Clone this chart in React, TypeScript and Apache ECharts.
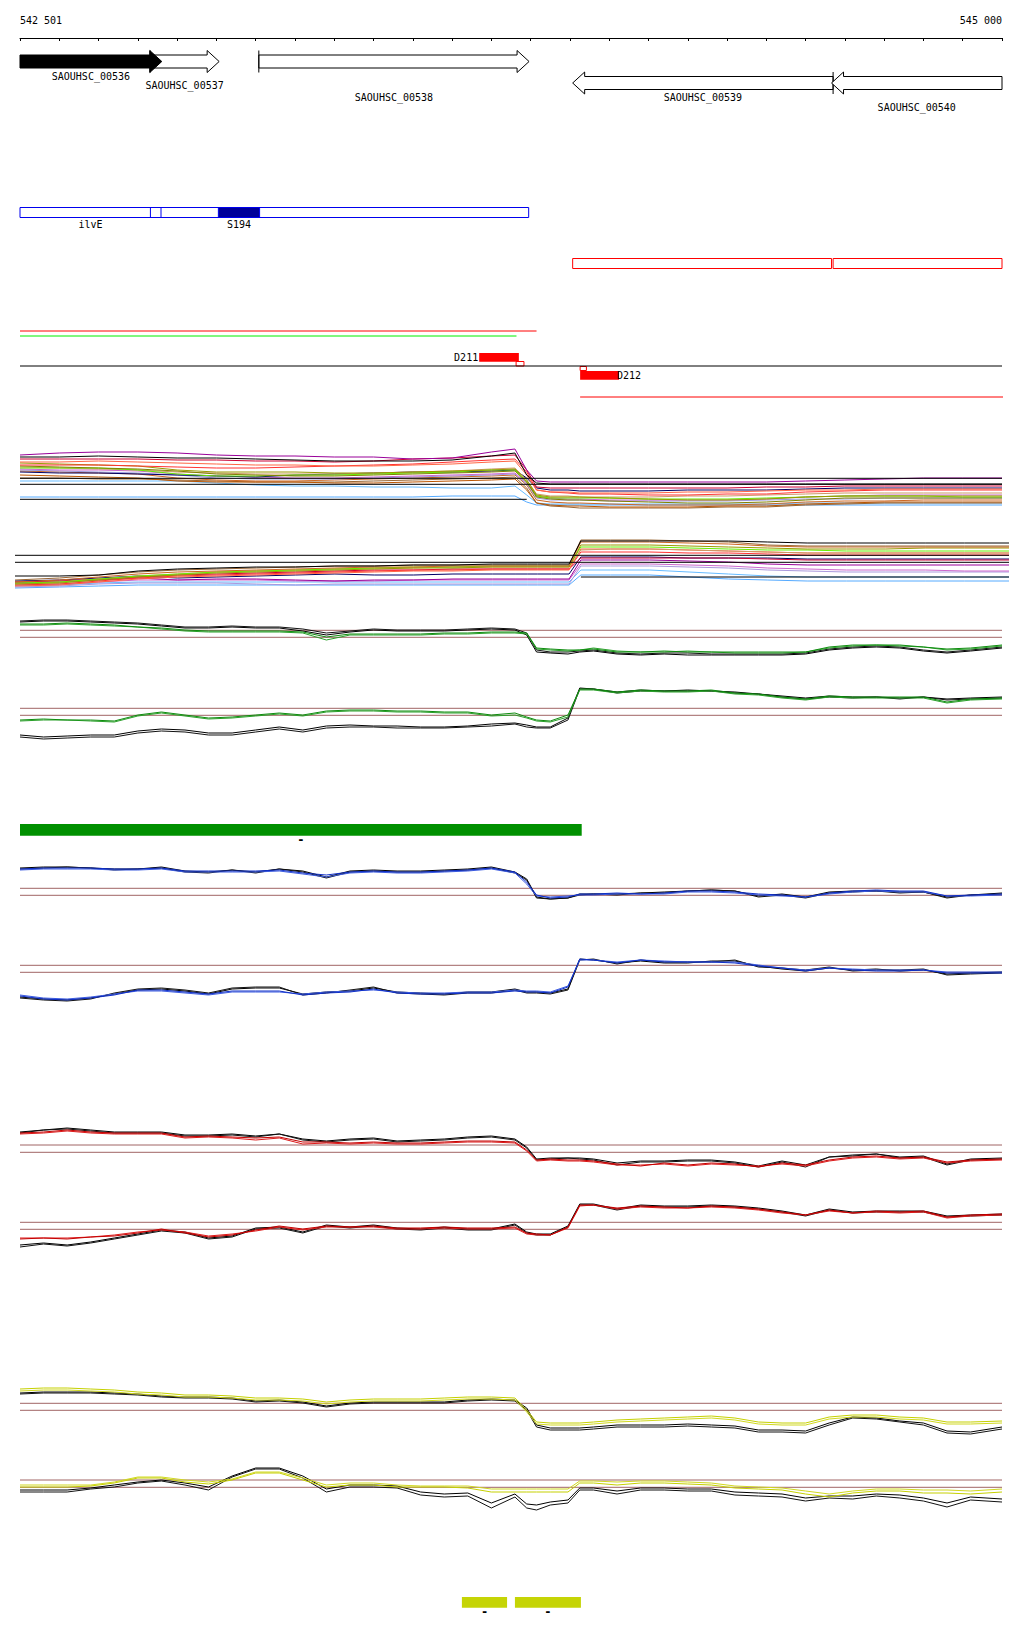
import React, { useEffect, useRef } from 'react';
import * as echarts from 'echarts';

// ---------------- data ----------------
const VIEW_START = 542500;
const VIEW_END = 545000;
const TICK_STEP = 100;
const RULER_LABELS = ['542 501', '545 000'];

const GENE_NAMES = ['SAOUHSC_00536', 'SAOUHSC_00537', 'SAOUHSC_00538', 'SAOUHSC_00539', 'SAOUHSC_00540'];
const GENE_START = [542400, 542831, 543108, 543907, 544566];
const GENE_END = [542861, 543007, 543796, 544570, 545200];
const GENE_STRAND = [1, 1, 1, -1, -1];
const GENE_SELECTED = ['SAOUHSC_00536'];

const FEAT_LABELS = ['ilvE', '', 'S194', '', ''];
const FEAT_START = [542420, 542832, 543005, 543907, 544570];
const FEAT_END = [542859, 543795, 543110, 544566, 545000];
const FEAT_STRAND = ['+', '+', '+', '-', '-'];
const FEAT_TYPE = ['CDS', 'UTR', 'sRNA', 'antisense', 'antisense'];

const TX_START = [542500, 542500, 543926];
const TX_END = [543815, 543764, 545056];
const TX_LEVEL = [3.5, 3.0, -3.1];

const SITE_NAMES = ['D211', 'D212'];
const SITE_START = [543669, 543926];
const SITE_END = [543770, 544025];
const SITE_STRAND = [1, -1];
const SITE_BOX_START = [543763, 543926];
const SITE_BOX_END = [543783, 543942];

const GREEN_BAR_START = [542450];
const GREEN_BAR_END = [543930];
const YELLOW_BAR_START = [543625, 543760];
const YELLOW_BAR_END = [543740, 543928];
const BAR_STRAND_LABEL = '-';

// positions of the tiling probes (bp)
const POS = [542500, 542560, 542620, 542680, 542740, 542800, 542860, 542920, 542980, 543040, 543100, 543160, 543220, 543280, 543340, 543400, 543460, 543520, 543580, 543640, 543700, 543760, 543790, 543815, 543850, 543895, 543925, 543960, 544020, 544080, 544140, 544200, 544260, 544320, 544380, 544440, 544500, 544560, 544620, 544680, 544740, 544800, 544860, 544920, 545000];
const POS_M = [542500, 542600, 542700, 542800, 542900, 543000, 543100, 543200, 543300, 543400, 543500, 543600, 543700, 543760, 543790, 543815, 543850, 543895, 543925, 544000, 544100, 544200, 544300, 544400, 544500, 544600, 544700, 544800, 544900, 545000];
const POS_M2 = [542487, 542600, 542700, 542800, 542900, 543000, 543100, 543200, 543300, 543400, 543500, 543600, 543700, 543760, 543790, 543815, 543850, 543895, 543925, 544000, 544100, 544200, 544300, 544400, 544500, 544600, 544700, 544800, 544900, 545013];

// multi-condition track 1
const M1_PURPLE = [57, 59, 60, 60, 59, 57, 56, 56, 55, 55, 53, 54, 60, 63, 42, 31, 30, 30, 30, 30, 30, 30, 30, 30, 31, 32, 33, 34, 34, 34];
const M1_BLACK = [55, 55, 56, 55, 54, 54, 53, 52, 51, 51, 51, 52, 56, 59, 37, 29, 28, 28, 28, 28, 28, 28, 28, 28, 28, 28, 28, 28, 28, 28];
const M1_CRIMSON = [53, 53, 53, 53, 52, 52, 51, 51, 50, 51, 53, 54, 56, 57, 42, 25, 24, 24, 24, 24, 24, 24, 24, 25, 25, 26, 26, 26, 26, 26];
const M1_SALMON = [50, 50, 51, 50, 49, 48, 47, 47, 46, 46, 47, 48, 50, 51, 37, 22, 20, 20, 19, 19, 19, 20, 20, 21, 22, 22, 23, 23, 23, 23];
const M1_OLIVE = [49, 48, 47, 46, 42, 40, 40, 40, 39, 39, 40, 41, 42, 43, 32, 17, 15, 15, 15, 14, 13, 12, 12, 13, 15, 16, 16, 16, 16, 16];
const M1_OLIVE2 = [46, 45, 44, 43, 41, 38, 37, 36, 36, 37, 38, 39, 40, 41, 30, 15, 13, 12, 12, 11, 10, 9, 9, 10, 12, 14, 14, 14, 14, 14];
const M1_GREEN = [44, 44, 44, 42, 38, 36, 36, 37, 37, 38, 39, 40, 42, 42, 30, 16, 14, 14, 14, 14, 13, 13, 13, 14, 15, 16, 16, 16, 15, 15];
const M1_ORANGE = [41, 40, 39, 38, 34, 32, 31, 31, 32, 33, 34, 35, 36, 37, 27, 12, 10, 9, 9, 8, 7, 7, 7, 8, 10, 11, 11, 12, 12, 12];
const M1_ORANGE2 = [37, 36, 35, 34, 31, 30, 30, 30, 29, 29, 30, 31, 32, 33, 22, 9, 7, 6, 6, 5, 5, 5, 6, 6, 8, 9, 10, 10, 10, 10];
const M1_NAVY = [40, 39, 39, 38, 37, 36, 35, 37, 38, 39, 40, 40, 41, 42, 34, 24, 22, 22, 21, 21, 21, 22, 22, 22, 23, 24, 24, 24, 24, 24];
const M1_LAVENDER = [42, 41, 40, 39, 37, 34, 33, 33, 33, 34, 35, 36, 37, 38, 28, 14, 12, 12, 12, 11, 11, 11, 11, 12, 13, 13, 14, 14, 14, 14];
const M1_PINK = [43, 42, 42, 41, 38, 36, 35, 34, 34, 35, 36, 37, 38, 39, 29, 16, 14, 13, 13, 12, 12, 12, 12, 13, 15, 16, 17, 17, 17, 17];
const M1_LIGHTBLUE = [31, 31, 31, 31, 31, 29, 27, 26, 26, 25, 25, 24, 24, 26, 17, 9, 8, 8, 8, 8, 8, 8, 8, 8, 9, 9, 9, 9, 9, 9];
const M1_LIGHTBLUE2 = [15, 15, 15, 15, 15, 15, 15, 15, 15, 15, 15, 16, 16, 16, 10, 7, 7, 7, 7, 7, 7, 7, 7, 7, 7, 7, 7, 7, 7, 7];
const M1_RED = [47, 47, 47, 46, 45, 44, 44, 45, 46, 47, 48, 50, 52, 53, 40, 22, 20, 19, 18, 18, 17, 17, 18, 18, 20, 21, 22, 22, 22, 22];
const M1_TAN = [45, 44, 43, 42, 40, 39, 38, 38, 38, 39, 40, 41, 43, 44, 32, 18, 16, 16, 15, 15, 15, 16, 16, 17, 18, 19, 19, 19, 19, 19];
const M1_BROWN = [34, 34, 33, 33, 32, 31, 30, 30, 30, 31, 32, 33, 34, 35, 24, 9, 6, 5, 4, 4, 4, 4, 5, 5, 7, 8, 9, 9, 9, 9];
const M1_REF = [33.7, 27.7];
const M1_REF_LEFT = 12.7;

// multi-condition track 2
const M2_BROWN = [15, 17, 20, 23, 25, 26, 27, 28, 29, 29, 30, 30, 30, 30, 30, 30, 30, 30, 55, 55, 55, 54, 53, 50, 49, 49, 49, 49, 49, 49];
const M2_ORANGE = [13, 15, 18, 21, 23, 24, 25, 26, 27, 28, 28, 29, 29, 29, 29, 29, 29, 29, 53, 53, 53, 52, 51, 49, 48, 48, 48, 48, 48, 48];
const M2_OLIVE = [11, 12, 15, 18, 20, 22, 23, 24, 25, 26, 27, 27, 28, 28, 28, 28, 28, 28, 50, 50, 50, 49, 48, 47, 46, 46, 46, 47, 47, 47];
const M2_GREEN = [12, 13, 16, 19, 21, 23, 24, 25, 26, 27, 28, 28, 29, 29, 29, 29, 29, 29, 48, 48, 48, 47, 46, 45, 45, 44, 44, 44, 44, 44];
const M2_RED = [10, 11, 14, 17, 19, 20, 21, 22, 23, 24, 25, 25, 26, 26, 26, 26, 26, 26, 43, 43, 43, 42, 42, 41, 40, 40, 40, 40, 40, 40];
const M2_SALMON = [9, 10, 13, 16, 18, 19, 20, 21, 22, 23, 24, 24, 25, 25, 25, 25, 25, 25, 46, 46, 46, 45, 44, 43, 42, 42, 42, 42, 42, 42];
const M2_NAVY = [14, 15, 17, 19, 17, 18, 19, 20, 21, 20, 20, 21, 21, 21, 21, 21, 21, 21, 38, 38, 38, 37, 37, 37, 36, 36, 36, 36, 36, 36];
const M2_PURPLE = [12, 13, 15, 17, 15, 16, 16, 15, 14, 15, 15, 16, 16, 16, 16, 16, 16, 16, 35, 35, 35, 34, 33, 31, 30, 30, 30, 30, 30, 30];
const M2_PINK = [10, 11, 13, 15, 15, 15, 15, 14, 14, 14, 15, 15, 15, 15, 15, 15, 15, 15, 31, 31, 31, 30, 29, 27, 26, 25, 25, 25, 24, 24];
const M2_LAVENDER = [8, 9, 11, 12, 12, 12, 11, 10, 11, 11, 11, 11, 11, 11, 11, 11, 11, 11, 29, 29, 29, 28, 27, 25, 24, 23, 23, 23, 23, 23];
const M2_LIGHTBLUE = [9, 10, 12, 13, 13, 13, 13, 13, 13, 13, 13, 13, 13, 13, 13, 13, 13, 13, 25, 25, 25, 23, 21, 19, 18, 18, 18, 18, 18, 18];
const M2_LIGHTBLUE2 = [7, 8, 9, 10, 10, 10, 10, 10, 10, 10, 10, 10, 10, 10, 10, 10, 10, 10, 20, 20, 20, 18, 16, 15, 14, 14, 14, 14, 14, 14];
const M2_TAN = [11, 13, 16, 19, 21, 23, 24, 25, 26, 27, 27, 28, 28, 28, 28, 28, 28, 28, 45, 46, 46, 45, 44, 43, 42, 42, 42, 42, 42, 42];
const M2_CRIMSON = [13, 14, 16, 18, 20, 21, 22, 23, 24, 25, 25, 26, 26, 26, 26, 26, 26, 26, 37, 37, 37, 37, 37, 36, 35, 35, 35, 35, 35, 35];
const M2_BLACK = [19, 19, 20, 24, 26, 27, 28, 28, 29, 29, 30, 30, 31, 31, 31, 31, 31, 31, 54, 54, 54, 54, 54, 53, 52, 52, 52, 52, 52, 52];
const M2_REF = [39.7, 32.7];
const M2_REF_RIGHT = 18;

// green tracks
const G1_BLACK_A = [41, 42, 42, 41, 40, 39, 37, 35, 35, 36, 35, 35, 33, 29, 31, 33, 32, 32, 32, 33, 34, 33, 29, 12, 10, 10, 11, 12, 9, 8, 9, 9, 8, 8, 8, 8, 9, 13, 15, 16, 15, 12, 10, 12, 15];
const G1_BLACK_B = [40, 41, 41, 40, 39, 38, 36, 34, 34, 35, 34, 34, 31, 27, 30, 32, 31, 31, 31, 32, 33, 32, 27, 10, 9, 8, 10, 11, 8, 7, 8, 7, 7, 7, 7, 7, 8, 12, 14, 15, 14, 11, 9, 11, 14];
const G1_GREEN_A = [38, 38, 39, 38, 37, 35, 34, 32, 31, 31, 31, 31, 30, 25, 28, 28, 28, 28, 29, 29, 30, 30, 29, 14, 13, 12, 12, 13, 10, 10, 11, 10, 10, 10, 10, 10, 10, 15, 17, 17, 17, 15, 13, 14, 17];
const G1_GREEN_B = [37, 37, 38, 37, 36, 35, 33, 31, 30, 30, 30, 30, 29, 22, 27, 27, 27, 27, 28, 28, 29, 29, 28, 13, 12, 11, 12, 14, 11, 10, 10, 11, 10, 9, 9, 9, 10, 14, 16, 17, 16, 15, 12, 13, 16];
const G1_THRESH = [31.7, 24.7];

const G2_GREEN_A = [25, 26, 25, 25, 24, 30, 33, 30, 27, 28, 30, 32, 30, 34, 35, 35, 34, 34, 33, 33, 30, 32, 28, 25, 24, 30, 56, 56, 53, 55, 54, 54, 55, 52, 51, 48, 46, 49, 48, 48, 48, 48, 43, 46, 47];
const G2_GREEN_B = [24, 25, 25, 24, 23, 29, 32, 29, 26, 27, 29, 31, 29, 33, 34, 34, 33, 33, 32, 32, 29, 30, 27, 24, 23, 28, 55, 55, 52, 54, 53, 53, 54, 51, 50, 47, 45, 48, 47, 47, 47, 47, 42, 45, 46];
const G2_BLACK_A = [8, 6, 7, 8, 8, 12, 14, 13, 10, 10, 13, 16, 13, 17, 18, 18, 17, 17, 17, 18, 19, 21, 18, 17, 17, 25, 56, 56, 52, 54, 54, 54, 54, 52, 51, 48, 46, 48, 47, 48, 46, 48, 45, 46, 47];
const G2_BLACK_B = [10, 8, 9, 10, 10, 14, 16, 15, 12, 12, 15, 18, 15, 19, 20, 19, 19, 18, 18, 19, 21, 22, 20, 18, 18, 27, 57, 56, 53, 55, 54, 55, 54, 53, 51, 49, 47, 49, 48, 48, 47, 48, 46, 47, 48];
const G2_THRESH = [36.7, 29.7];

// blue tracks
const B1_BLUE_A = [41, 42, 42, 42, 41, 41, 42, 39, 39, 39, 39, 40, 37, 35, 38, 39, 38, 38, 39, 40, 42, 38, 28, 15, 12, 13, 16, 16, 17, 16, 17, 19, 19, 18, 16, 15, 13, 17, 19, 20, 19, 19, 14, 15, 16];
const B1_BLUE_B = [40, 41, 41, 41, 40, 40, 41, 38, 38, 38, 38, 39, 36, 33, 37, 38, 37, 37, 38, 39, 41, 37, 26, 14, 13, 14, 15, 15, 16, 16, 16, 18, 18, 17, 15, 14, 13, 16, 18, 19, 18, 18, 14, 14, 15];
const B1_BLACK_A = [41, 42, 43, 42, 40, 41, 42, 38, 37, 40, 37, 41, 38, 32, 38, 39, 38, 38, 39, 40, 42, 37, 30, 12, 11, 12, 15, 16, 15, 17, 17, 19, 20, 19, 13, 15, 12, 17, 18, 19, 17, 18, 12, 15, 16];
const B1_BLACK_B = [42, 43, 43, 42, 41, 41, 43, 39, 38, 40, 38, 41, 39, 33, 39, 40, 39, 39, 40, 41, 43, 38, 31, 13, 11, 12, 16, 16, 16, 17, 18, 19, 20, 19, 14, 16, 13, 18, 19, 19, 18, 18, 13, 15, 17];
const B1_THRESH = [21.7, 14.7];

const B2_BLUE_A = [14, 11, 10, 12, 15, 20, 20, 18, 16, 19, 19, 19, 15, 17, 18, 21, 17, 16, 16, 17, 17, 19, 18, 18, 17, 23, 51, 50, 47, 50, 48, 48, 48, 47, 44, 42, 39, 42, 40, 39, 39, 40, 37, 37, 37];
const B2_BLUE_B = [15, 12, 11, 13, 16, 19, 19, 17, 15, 18, 18, 18, 16, 18, 19, 20, 18, 17, 17, 18, 18, 20, 19, 19, 18, 24, 50, 50, 48, 50, 49, 48, 48, 48, 45, 42, 40, 42, 41, 40, 40, 40, 38, 38, 38];
const B2_BLACK_A = [12, 10, 9, 11, 17, 21, 22, 20, 17, 22, 23, 23, 15, 17, 20, 23, 17, 16, 15, 17, 17, 20, 17, 17, 16, 20, 50, 51, 46, 50, 48, 48, 48, 50, 43, 42, 40, 43, 39, 40, 40, 41, 35, 36, 37];
const B2_BLACK_B = [13, 11, 10, 12, 16, 20, 21, 19, 16, 21, 22, 22, 16, 18, 19, 22, 18, 17, 16, 18, 18, 21, 18, 18, 17, 21, 51, 50, 47, 49, 47, 47, 49, 49, 44, 41, 39, 42, 40, 41, 39, 40, 36, 37, 38];
const B2_THRESH = [44.7, 37.7];

// red tracks
const R1_RED_A = [47, 48, 50, 48, 47, 47, 47, 43, 44, 43, 42, 43, 38, 38, 37, 38, 37, 37, 38, 39, 39, 38, 30, 20, 21, 20, 20, 19, 16, 14, 17, 15, 17, 16, 13, 17, 15, 20, 23, 24, 22, 23, 18, 20, 21];
const R1_RED_B = [46, 47, 49, 47, 46, 46, 46, 42, 43, 42, 40, 42, 36, 37, 36, 37, 36, 36, 37, 38, 38, 37, 29, 19, 20, 19, 19, 18, 15, 15, 16, 14, 16, 15, 14, 16, 14, 19, 22, 23, 21, 22, 17, 19, 20];
const R1_BLACK_A = [47, 50, 51, 49, 47, 47, 47, 44, 44, 45, 43, 46, 40, 38, 40, 41, 38, 39, 40, 42, 43, 40, 32, 20, 21, 22, 21, 20, 15, 18, 18, 19, 19, 17, 13, 18, 13, 23, 24, 26, 22, 23, 15, 20, 21];
const R1_BLACK_B = [48, 50, 52, 50, 48, 48, 48, 45, 45, 46, 44, 46, 41, 39, 41, 42, 39, 40, 41, 43, 44, 41, 33, 21, 22, 22, 22, 21, 17, 19, 19, 20, 20, 18, 14, 19, 15, 23, 25, 26, 23, 24, 16, 21, 22];
const R1_THRESH = [35, 27.7];

const R2_RED_A = [21, 22, 21, 23, 24, 27, 31, 27, 23, 25, 30, 34, 31, 34, 33, 34, 32, 32, 33, 32, 32, 33, 27, 26, 25, 33, 55, 55, 52, 54, 53, 52, 54, 53, 51, 48, 45, 50, 47, 49, 48, 49, 43, 45, 46];
const R2_RED_B = [22, 22, 22, 23, 25, 28, 30, 28, 24, 26, 29, 33, 30, 33, 33, 33, 31, 31, 32, 31, 31, 32, 26, 25, 25, 32, 54, 55, 51, 53, 52, 52, 53, 52, 50, 47, 45, 49, 47, 48, 47, 48, 42, 44, 45];
const R2_BLACK_A = [13, 16, 14, 17, 21, 25, 29, 27, 21, 23, 31, 32, 27, 34, 32, 34, 31, 30, 32, 30, 30, 35, 27, 25, 25, 33, 55, 55, 50, 54, 53, 53, 54, 53, 51, 48, 44, 50, 47, 48, 48, 48, 43, 44, 45];
const R2_BLACK_B = [15, 17, 15, 18, 22, 26, 30, 28, 22, 24, 32, 33, 28, 35, 33, 35, 32, 31, 33, 31, 31, 36, 28, 26, 26, 34, 56, 56, 51, 55, 54, 54, 55, 54, 52, 49, 45, 51, 48, 49, 49, 49, 44, 45, 46];
const R2_THRESH = [37.7, 30.7];

// yellow tracks
const Y1_YEL_A = [56, 57, 57, 56, 55, 53, 52, 50, 50, 49, 47, 47, 46, 43, 45, 46, 46, 46, 47, 48, 48, 47, 35, 23, 22, 22, 22, 23, 25, 26, 27, 28, 29, 27, 23, 22, 22, 28, 30, 30, 28, 27, 23, 23, 24];
const Y1_YEL_B = [54, 55, 55, 54, 53, 51, 50, 48, 48, 47, 45, 45, 44, 41, 43, 44, 44, 44, 45, 46, 46, 45, 33, 21, 20, 20, 20, 21, 23, 24, 25, 26, 27, 25, 21, 20, 20, 26, 28, 28, 26, 25, 21, 21, 22];
const Y1_BLACK_A = [51, 52, 52, 52, 51, 50, 48, 47, 47, 46, 43, 44, 42, 38, 41, 42, 42, 42, 42, 44, 45, 44, 35, 18, 15, 15, 15, 16, 18, 18, 18, 19, 18, 17, 13, 13, 12, 20, 27, 26, 23, 20, 12, 11, 16];
const Y1_BLACK_B = [52, 53, 53, 53, 52, 51, 49, 48, 48, 47, 44, 45, 43, 39, 42, 43, 43, 43, 43, 45, 46, 45, 37, 20, 17, 17, 17, 18, 20, 20, 20, 21, 20, 19, 15, 15, 14, 22, 28, 27, 24, 22, 14, 13, 18];
const Y1_THRESH = [41.7, 34.7];

const Y2_YEL_A = [33, 33, 33, 34, 37, 42, 42, 38, 36, 40, 47, 47, 40, 33, 35, 35, 33, 33, 33, 32, 28, 28, 28, 28, 28, 28, 37, 37, 35, 37, 37, 36, 35, 32, 31, 30, 26, 23, 27, 29, 29, 27, 27, 26, 28];
const Y2_YEL_B = [35, 35, 35, 35, 38, 43, 43, 40, 38, 41, 48, 48, 42, 35, 37, 37, 35, 34, 34, 34, 31, 31, 31, 31, 31, 31, 39, 39, 38, 39, 39, 38, 37, 34, 33, 32, 29, 26, 29, 31, 31, 30, 30, 29, 31];
const Y2_BLACK_A = [28, 28, 28, 31, 33, 37, 39, 35, 30, 43, 51, 51, 42, 28, 33, 33, 32, 25, 23, 24, 12, 23, 12, 10, 15, 17, 30, 30, 26, 30, 30, 29, 29, 25, 24, 23, 19, 22, 21, 24, 22, 19, 13, 20, 18];
const Y2_BLACK_B = [30, 30, 30, 32, 35, 38, 40, 37, 33, 44, 52, 52, 44, 31, 35, 35, 34, 28, 26, 27, 17, 26, 16, 15, 18, 20, 32, 32, 29, 32, 32, 31, 31, 28, 27, 26, 22, 24, 24, 26, 25, 22, 17, 23, 21];
const Y2_THRESH = [40, 32.7];

// ---------------- option builder ----------------
const FONT = 'DejaVu Sans Mono';
const THRESH_COLOR = '#a06464';

function buildOption() {
  const grids: any[] = [];
  const xAxes: any[] = [];
  const yAxes: any[] = [];
  const extraX: any[] = [];
  const series: any[] = [];

  function addGrid(d: any): number {
    const i = grids.length;
    grids.push({ left: d.left ?? 20, right: d.right ?? 22, top: d.top, height: d.height });
    xAxes.push({ type: 'value', gridIndex: i, min: d.xmin ?? VIEW_START, max: d.xmax ?? VIEW_END, show: false });
    if (d.ycat) {
      yAxes.push({ type: 'category', gridIndex: i, data: d.ycat, inverse: true, show: false });
    } else {
      yAxes.push({ type: 'value', gridIndex: i, min: d.ymin ?? 0, max: d.ymax ?? d.height, inverse: !!d.inverse, show: false });
    }
    return i;
  }

  function addLine(gi: number, xs: number[], ys: number[], color: string, extra: any = {}) {
    series.push({
      type: 'line', xAxisIndex: gi, yAxisIndex: gi,
      data: xs.map((x, k) => [x, ys[k]]),
      showSymbol: false, symbol: 'none', silent: true,
      lineStyle: { color, width: 1 }, itemStyle: { color },
      emphasis: { disabled: true }, animation: false, z: 2,
      ...extra,
    });
  }
  function addFlat(gi: number, x0: number, x1: number, v: number, color: string, extra: any = {}) {
    addLine(gi, [x0, x1], [v, v], color, extra);
  }
  const txt = (text: string, x: number, y: number, align: string, size = 10, weight = 'normal') => ({
    type: 'text', x, y, silent: true, z2: 20,
    style: { text, fill: '#000', fontSize: size, fontWeight: weight, fontFamily: FONT, textAlign: align, textVerticalAlign: 'middle', align, verticalAlign: 'middle' },
  });

  // ----- genes + ruler -----
  const gGenes = addGrid({ top: 40, height: 43, ymin: 0, ymax: 2, inverse: true });
  xAxes[gGenes] = {
    type: 'value', gridIndex: gGenes, min: VIEW_START, max: VIEW_END, interval: TICK_STEP,
    position: 'top', offset: 2,
    axisLine: { show: true, onZero: false, lineStyle: { color: '#000', width: 1 } },
    axisTick: { show: true, inside: true, length: 3, lineStyle: { color: '#000', width: 1 } },
    splitLine: { show: false },
    axisLabel: {
      show: true, interval: 0, margin: 13, color: '#000', fontFamily: FONT, fontSize: 10,
      showMinLabel: true, showMaxLabel: true, alignMinLabel: 'left', alignMaxLabel: 'right', hideOverlap: false,
      formatter: (v: number) => (v === VIEW_START ? RULER_LABELS[0] : v === VIEW_END ? RULER_LABELS[1] : ''),
    },
  };
  extraX.push({
    type: 'value', gridIndex: gGenes, min: VIEW_START, max: VIEW_END, interval: TICK_STEP,
    position: 'top', offset: 2,
    axisLine: { show: false }, axisLabel: { show: false }, splitLine: { show: false },
    axisTick: { show: true, inside: false, length: 2, lineStyle: { color: '#000', width: 1 } },
  });
  const geneLane: number[] = [];
  {
    const cnt: Record<string, number> = {};
    GENE_STRAND.forEach((s, i) => { const k = String(s); geneLane[i] = cnt[k] ?? 0; cnt[k] = (cnt[k] ?? 0) + 1; });
  }
  const LABEL_DY = [14.5, 24, 36];
  const BODY = 6.5, HEAD = 11, HEAD_LEN = 12;
  const geneOrder = GENE_NAMES.map((_, i) => i).sort((a, b) =>
    (GENE_SELECTED.includes(GENE_NAMES[a]) ? 1 : 0) - (GENE_SELECTED.includes(GENE_NAMES[b]) ? 1 : 0));
  series.push({
    type: 'custom', xAxisIndex: gGenes, yAxisIndex: gGenes, silent: true, animation: false,
    encode: { x: [0, 1], y: 2 },
    data: geneOrder.map((i) => [GENE_START[i], GENE_END[i], GENE_STRAND[i] > 0 ? 1 : 2, i]),
    renderItem: (params: any, api: any) => {
      const i = api.value(3);
      const row = api.value(2);
      const cs = params.coordSys;
      const left = cs.x, right = cs.x + cs.width;
      const a = api.coord([api.value(0), row]);
      const b = api.coord([api.value(1), row]);
      const yc = a[1];
      const x0 = a[0], x1 = b[0];
      const sel = GENE_SELECTED.includes(GENE_NAMES[i]);
      const z2 = sel ? 10 : 1;
      const children: any[] = [];
      let pts: number[][];
      let barX: number | null = null;
      if (GENE_STRAND[i] > 0) {
        const tail = Math.max(x0, left);
        const hb = x1 - HEAD_LEN;
        pts = [[tail, yc - BODY], [hb, yc - BODY], [hb, yc - HEAD], [x1, yc], [hb, yc + HEAD], [hb, yc + BODY], [tail, yc + BODY]];
        if (x0 >= left) barX = x0;
      } else {
        const tail = Math.min(x1, right);
        const hb = x0 + HEAD_LEN;
        pts = [[x0, yc], [hb, yc - HEAD], [hb, yc - BODY], [tail, yc - BODY], [tail, yc + BODY], [hb, yc + BODY], [hb, yc + HEAD]];
        if (x1 <= right) barX = x1;
      }
      children.push({ type: 'polygon', z2, shape: { points: pts }, style: { fill: sel ? '#000' : '#fff', stroke: '#000', lineWidth: 1 } });
      if (barX !== null) {
        children.push({ type: 'line', z2, shape: { x1: barX, y1: yc - HEAD, x2: barX, y2: yc + HEAD }, style: { stroke: '#000', lineWidth: 1 } });
      }
      const cx = (Math.max(x0, left) + Math.min(x1, right)) / 2;
      children.push(txt(GENE_NAMES[i], cx, yc + LABEL_DY[geneLane[i]], 'center'));
      return { type: 'group', children };
    },
  });

  // ----- features -----
  const gFeat = addGrid({ top: 187, height: 102, ycat: ['+', '-'] });
  series.push({
    type: 'custom', xAxisIndex: gFeat, yAxisIndex: gFeat, silent: true, animation: false,
    encode: { x: [0, 1], y: 2 },
    data: FEAT_START.map((s, i) => [s, FEAT_END[i], FEAT_STRAND[i] === '+' ? 0 : 1, i]),
    renderItem: (params: any, api: any) => {
      const i = api.value(3);
      const row = api.value(2);
      const cs = params.coordSys;
      const a = api.coord([api.value(0), row]);
      const b = api.coord([api.value(1), row]);
      const x0 = Math.max(a[0], cs.x), x1 = Math.min(b[0], cs.x + cs.width);
      const yc = a[1];
      const filled = FEAT_TYPE[i] === 'sRNA';
      const color = row === 0 ? '#0000ee' : '#ff0000';
      const children: any[] = [{
        type: 'rect', z2: filled ? 5 : 1,
        shape: { x: x0, y: yc - 5, width: x1 - x0, height: 10 },
        style: { fill: filled ? '#000099' : 'none', stroke: color, lineWidth: 1 },
      }];
      if (FEAT_LABELS[i]) children.push(txt(FEAT_LABELS[i], (x0 + x1) / 2, yc + 12, 'center'));
      return { type: 'group', children };
    },
  });

  // ----- transcripts / sites -----
  const gAnn = addGrid({ top: 320, height: 80, ymin: -3.4, ymax: 4.6 });
  const TX_COLORS = ['#ff0000', '#00ee00', '#ff0000'];
  TX_START.forEach((s, i) => addFlat(gAnn, s, TX_END[i], TX_LEVEL[i], TX_COLORS[i], { clip: false }));
  addFlat(gAnn, VIEW_START, VIEW_END, 0, '#000');
  series.push({
    type: 'custom', xAxisIndex: gAnn, yAxisIndex: gAnn, silent: true, animation: false,
    encode: { x: [0, 1], y: 2 },
    data: SITE_START.map((s, i) => [s, SITE_END[i], 0, i]),
    renderItem: (params: any, api: any) => {
      const i = api.value(3);
      const a = api.coord([api.value(0), 0]);
      const b = api.coord([api.value(1), 0]);
      const bx0 = api.coord([SITE_BOX_START[i], 0])[0];
      const bx1 = api.coord([SITE_BOX_END[i], 0])[0];
      const base = a[1];
      const plus = SITE_STRAND[i] > 0;
      const children: any[] = [];
      if (plus) {
        children.push({ type: 'rect', shape: { x: a[0], y: base - 13, width: b[0] - a[0], height: 8.7 }, style: { fill: '#ff0000' } });
        children.push({ type: 'rect', shape: { x: bx0, y: base - 4.5, width: bx1 - bx0, height: 4.5 }, style: { fill: 'none', stroke: '#ff0000', lineWidth: 1 } });
        children.push(txt(SITE_NAMES[i], a[0] - 1, base - 8.5, 'right'));
      } else {
        children.push({ type: 'rect', shape: { x: a[0], y: base + 5, width: b[0] - a[0], height: 8.7 }, style: { fill: '#ff0000' } });
        children.push({ type: 'rect', shape: { x: bx0, y: base + 0.5, width: bx1 - bx0, height: 4 }, style: { fill: 'none', stroke: '#ff0000', lineWidth: 1 } });
        children.push(txt(SITE_NAMES[i], b[0] - 2, base + 9.5, 'left'));
      }
      return { type: 'group', children };
    },
  });

  // ----- multi-condition tracks -----
  const gM1 = addGrid({ top: 440, height: 72 });
  const m1: [number[], string][] = [
    [M1_LIGHTBLUE2, '#55aaff'], [M1_LIGHTBLUE, '#66bbff'], [M1_BROWN, '#996633'], [M1_ORANGE2, '#bb5500'],
    [M1_ORANGE, '#cc6622'], [M1_LAVENDER, '#9999dd'], [M1_PINK, '#cc66cc'], [M1_NAVY, '#000066'],
    [M1_TAN, '#cc9966'], [M1_GREEN, '#66ee00'], [M1_OLIVE2, '#808000'], [M1_OLIVE, '#999900'],
    [M1_RED, '#ff3333'], [M1_SALMON, '#ff6644'], [M1_CRIMSON, '#cc0033'], [M1_BLACK, '#000000'], [M1_PURPLE, '#990099'],
  ];
  m1.forEach(([arr, c]) => addLine(gM1, POS_M, arr, c));
  M1_REF.forEach((v) => addFlat(gM1, VIEW_START, VIEW_END, v, '#000'));
  addFlat(gM1, VIEW_START, POS_M[14], M1_REF_LEFT, '#000');

  const gM2 = addGrid({ top: 532, height: 63, left: 15, right: 15, xmin: POS_M2[0], xmax: POS_M2[POS_M2.length - 1] });
  const m2: [number[], string][] = [
    [M2_LIGHTBLUE2, '#55aaff'], [M2_LIGHTBLUE, '#66bbff'], [M2_LAVENDER, '#aa99dd'], [M2_PINK, '#cc66cc'],
    [M2_PURPLE, '#990099'], [M2_NAVY, '#000066'], [M2_CRIMSON, '#cc0033'], [M2_RED, '#ff3333'],
    [M2_SALMON, '#ff6644'], [M2_TAN, '#cc9966'], [M2_GREEN, '#66ee00'], [M2_OLIVE, '#999900'],
    [M2_ORANGE, '#cc6622'], [M2_BROWN, '#996633'], [M2_BLACK, '#000000'],
  ];
  m2.forEach(([arr, c]) => addLine(gM2, POS_M2, arr, c));
  M2_REF.forEach((v) => addFlat(gM2, POS_M2[0], POS_M2[POS_M2.length - 1], v, '#000'));
  addFlat(gM2, POS_M2[18], POS_M2[POS_M2.length - 1], M2_REF_RIGHT, '#000');

  // ----- detail tracks -----
  const tracks = [
    { top: 612, height: 50, thr: G1_THRESH, lines: [[G1_BLACK_B, '#000'], [G1_BLACK_A, '#111'], [G1_GREEN_B, '#2aa02a'], [G1_GREEN_A, '#0f8c0f']] },
    { top: 680, height: 65, thr: G2_THRESH, lines: [[G2_BLACK_B, '#000'], [G2_BLACK_A, '#111'], [G2_GREEN_B, '#2aa02a'], [G2_GREEN_A, '#0f8c0f']] },
    { top: 855, height: 55, thr: B1_THRESH, lines: [[B1_BLACK_B, '#000'], [B1_BLACK_A, '#111'], [B1_BLUE_B, '#3a5ae0'], [B1_BLUE_A, '#1030c8']] },
    { top: 945, height: 65, thr: B2_THRESH, lines: [[B2_BLACK_B, '#000'], [B2_BLACK_A, '#111'], [B2_BLUE_B, '#3a5ae0'], [B2_BLUE_A, '#1030c8']] },
    { top: 1115, height: 65, thr: R1_THRESH, lines: [[R1_BLACK_B, '#000'], [R1_BLACK_A, '#111'], [R1_RED_B, '#dd1a1a'], [R1_RED_A, '#c40000']] },
    { top: 1190, height: 70, thr: R2_THRESH, lines: [[R2_BLACK_B, '#000'], [R2_BLACK_A, '#111'], [R2_RED_B, '#dd1a1a'], [R2_RED_A, '#c40000']] },
    { top: 1380, height: 65, thr: Y1_THRESH, lines: [[Y1_BLACK_B, '#000'], [Y1_BLACK_A, '#111'], [Y1_YEL_B, '#d0d820'], [Y1_YEL_A, '#c5d000']] },
    { top: 1455, height: 65, thr: Y2_THRESH, lines: [[Y2_BLACK_B, '#000'], [Y2_BLACK_A, '#111'], [Y2_YEL_B, '#d0d820'], [Y2_YEL_A, '#c5d000']] },
  ];
  const barSpecs: any[] = [
    { top: 820, height: 19.7, starts: GREEN_BAR_START, ends: GREEN_BAR_END, color: '#009000', h: 11.7 },
    { top: 1592, height: 20.7, starts: YELLOW_BAR_START, ends: YELLOW_BAR_END, color: '#c5d405', h: 10.7 },
  ];
  tracks.forEach((t) => {
    const gi = addGrid({ top: t.top, height: t.height });
    t.thr.forEach((v) => addFlat(gi, VIEW_START, VIEW_END, v, THRESH_COLOR));
    t.lines.forEach(([arr, c]) => addLine(gi, POS, arr as number[], c as string));
  });

  barSpecs.forEach((b) => {
    const gi = addGrid({ top: b.top, height: b.height, ymin: 0, ymax: 1 });
    series.push({
      type: 'custom', xAxisIndex: gi, yAxisIndex: gi, silent: true, animation: false,
      encode: { x: [0, 1], y: 2 },
      data: b.starts.map((s: number, i: number) => [s, b.ends[i], 0.5, i]),
      renderItem: (params: any, api: any) => {
        const cs = params.coordSys;
        const p0 = api.coord([api.value(0), 0.5]);
        const p1 = api.coord([api.value(1), 0.5]);
        const x0 = Math.max(p0[0], cs.x), x1 = Math.min(p1[0], cs.x + cs.width);
        const yc = p0[1];
        return {
          type: 'group',
          children: [
            { type: 'rect', shape: { x: x0, y: yc - b.h / 2, width: x1 - x0, height: b.h }, style: { fill: b.color } },
            txt(BAR_STRAND_LABEL, (x0 + x1) / 2, yc + b.h / 2 + 4, 'center', 12, 'bold'),
          ],
        };
      },
    });
  });

  return {
    animation: false,
    backgroundColor: '#ffffff',
    grid: grids,
    xAxis: [...xAxes, ...extraX],
    yAxis: yAxes,
    series,
  };
}

export default function App() {
  const ref = useRef<HTMLDivElement>(null);
  useEffect(() => {
    if (!ref.current) return;
    const chart = echarts.init(ref.current, null, { renderer: 'svg' });
    chart.setOption(buildOption() as any);
    return () => chart.dispose();
  }, []);
  return (
    <div
      ref={ref}
      style={{ position: 'absolute', left: 0, top: 0, width: 1024, height: 1640, background: '#fff' }}
    />
  );
}
